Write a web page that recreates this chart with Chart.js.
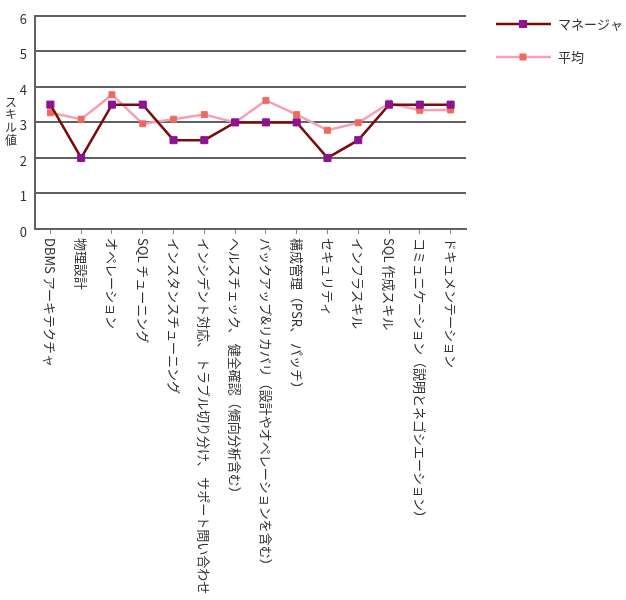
<!DOCTYPE html>
<html><head><meta charset="utf-8">
<script src="https://cdn.jsdelivr.net/npm/chart.js@4/dist/chart.umd.min.js"></script>
<style>html,body{margin:0;padding:0;background:#fff;}</style>
</head><body>
<canvas id="c" width="626" height="600"></canvas>
<script>
const categories = [
  'DBMS アーキテクチャ',
  '物理設計',
  'オペレーション',
  'SQL チューニング',
  'インスタンスチューニング',
  'インシデント対応、 トラブル切り分け、 サポート問い合わせ',
  'ヘルスチェック、 健全確認（傾向分析含む）',
  'バックアップ&リカバリ（設計やオペレーションを含む）',
  '構成管理（PSR、 パッチ）',
  'セキュリティ',
  'インフラスキル',
  'SQL 作成スキル',
  'コミュニケーション（説明とネゴシエーション）',
  'ドキュメンテーション'
];
const managerValues = [3.5, 2, 3.5, 3.5, 2.5, 2.5, 3, 3, 3, 2, 2.5, 3.5, 3.5, 3.5];
const averageValues = [3.27, 3.09, 3.78, 2.96, 3.09, 3.22, 3.0, 3.62, 3.22, 2.78, 2.99, 3.54, 3.34, 3.35];
const seriesNames = ['マネージャ', '平均'];
const yAxisTitle = 'スキル値';
const yMin = 0, yMax = 6, yStep = 1;

const FONT = '"Noto Sans CJK JP", "Noto Sans", sans-serif';
const TEXT = '#333333';
const GRID = '#616161';

const customText = {
  id: 'customText',
  afterDraw(chart) {
    const ctx = chart.ctx;
    const xs = chart.scales.x;
    const area = chart.chartArea;
    ctx.save();
    ctx.fillStyle = TEXT;
    ctx.font = '13px ' + FONT;
    ctx.textBaseline = 'middle';
    ctx.textAlign = 'left';
    categories.forEach((lab, i) => {
      const px = xs.getPixelForValue(i);
      ctx.save();
      ctx.translate(px, area.bottom + 9);
      ctx.rotate(Math.PI / 2);
      ctx.fillText(lab, 0, 0);
      ctx.restore();
    });
    // stacked y-axis title
    ctx.font = '12px ' + FONT;
    ctx.textAlign = 'center';
    Array.from(yAxisTitle).forEach((ch, i) => {
      ctx.fillText(ch, 11, 102 + i * 12.8);
    });
    // legend
    ctx.font = '13px ' + FONT;
    chart.data.datasets.forEach((ds, i) => {
      const y = 24 + i * 33;
      ctx.strokeStyle = ds.borderColor;
      ctx.lineWidth = ds.borderWidth;
      ctx.beginPath(); ctx.moveTo(496, y); ctx.lineTo(551, y); ctx.stroke();
      const s = ds.legendMarker;
      ctx.fillStyle = ds.pointBackgroundColor;
      ctx.fillRect(523 - s / 2, y - s / 2, s, s);
      ctx.fillStyle = TEXT;
      ctx.textAlign = 'left';
      ctx.fillText(ds.label, 558, y);
    });
    ctx.restore();
  }
};

new Chart(document.getElementById('c'), {
  type: 'line',
  data: {
    labels: categories,
    datasets: [
      {
        label: seriesNames[0],
        data: managerValues,
        borderColor: '#7d0a0a',
        borderWidth: 2.5,
        pointStyle: 'rect',
        pointRadius: 5,
        pointBorderWidth: 1,
        pointBackgroundColor: '#8e1391',
        pointBorderColor: '#8e1391',
        legendMarker: 8,
        tension: 0
      },
      {
        label: seriesNames[1],
        data: averageValues,
        borderColor: '#f5a0b4',
        borderWidth: 2.5,
        pointStyle: 'rect',
        pointRadius: 4.2,
        pointBorderWidth: 1,
        pointBackgroundColor: '#ef6a5c',
        pointBorderColor: '#ef6a5c',
        legendMarker: 7,
        tension: 0
      }
    ]
  },
  options: {
    responsive: false,
    devicePixelRatio: 1,
    animation: false,
    layout: { padding: { left: 0, top: 14, right: 160, bottom: 366 } },
    plugins: { legend: { display: false }, tooltip: { enabled: false } },
    scales: {
      x: {
        offset: true,
        grid: { display: true, drawOnChartArea: false, drawTicks: true, tickLength: 5, color: '#888', lineWidth: 1 },
        border: { display: true, color: GRID, width: 2 },
        ticks: { display: false },
        afterFit(s) { s.height = 5; }
      },
      y: {
        min: yMin, max: yMax,
        ticks: { stepSize: yStep, padding: 8, labelOffset: 3, color: TEXT, font: { family: FONT, size: 13 } },
        grid: { color: GRID, lineWidth: 2, drawTicks: false },
        border: { display: true, color: GRID, width: 2 },
        afterFit(s) { s.width = 35; }
      }
    }
  },
  plugins: [customText]
});
</script>
</body></html>
